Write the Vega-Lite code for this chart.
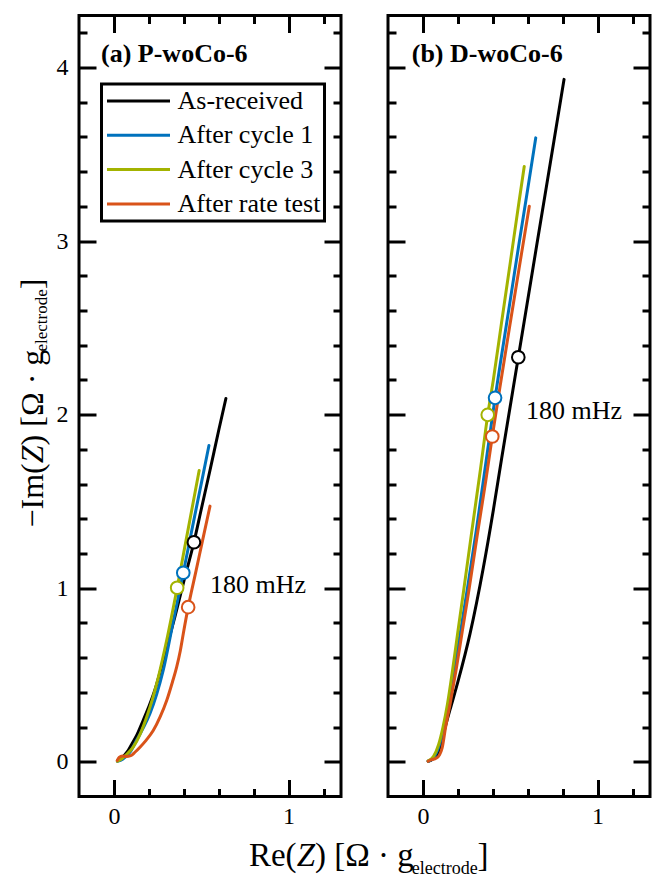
{
  "$schema": "https://vega.github.io/schema/vega-lite/v6.json",
  "padding": {"left": 15, "top": 12.5, "right": 0, "bottom": 0},
  "config": {
    "font": "Liberation Serif",
    "view": {"stroke": "black", "strokeWidth": 3},
    "axis": {"grid": false, "domain": false, "tickColor": "black", "tickWidth": 3, "tickSize": -17, "labelFont": "Liberation Serif", "labelFontSize": 24, "labelColor": "black", "labelPadding": 28, "labelFlush": false, "labelOverlap": false, "title": null},
    "text": {"font": "Liberation Serif", "color": "black"}
  },
  "datasets": {
    "curves": [
      {"panel":"a","series":"As-received","re":0.02,"im":0.005},{"panel":"a","series":"As-received","re":0.045,"im":0.02},{"panel":"a","series":"As-received","re":0.066,"im":0.045},{"panel":"a","series":"As-received","re":0.082,"im":0.066},{"panel":"a","series":"As-received","re":0.105,"im":0.107},{"panel":"a","series":"As-received","re":0.133,"im":0.158},{"panel":"a","series":"As-received","re":0.167,"im":0.238},{"panel":"a","series":"As-received","re":0.2,"im":0.318},{"panel":"a","series":"As-received","re":0.234,"im":0.412},{"panel":"a","series":"As-received","re":0.265,"im":0.52},{"panel":"a","series":"As-received","re":0.3,"im":0.65},{"panel":"a","series":"As-received","re":0.35,"im":0.84},{"panel":"a","series":"As-received","re":0.4,"im":1.04},{"panel":"a","series":"As-received","re":0.458,"im":1.265},{"panel":"a","series":"As-received","re":0.5,"im":1.455},{"panel":"a","series":"As-received","re":0.55,"im":1.68},{"panel":"a","series":"As-received","re":0.6,"im":1.91},{"panel":"a","series":"As-received","re":0.641,"im":2.093},
      {"panel":"a","series":"After cycle 1","re":0.02,"im":0.003},{"panel":"a","series":"After cycle 1","re":0.05,"im":0.015},{"panel":"a","series":"After cycle 1","re":0.092,"im":0.055},{"panel":"a","series":"After cycle 1","re":0.125,"im":0.115},{"panel":"a","series":"After cycle 1","re":0.165,"im":0.19},{"panel":"a","series":"After cycle 1","re":0.206,"im":0.277},{"panel":"a","series":"After cycle 1","re":0.245,"im":0.39},{"panel":"a","series":"After cycle 1","re":0.282,"im":0.526},{"panel":"a","series":"After cycle 1","re":0.34,"im":0.81},{"panel":"a","series":"After cycle 1","re":0.397,"im":1.089},{"panel":"a","series":"After cycle 1","re":0.45,"im":1.355},{"panel":"a","series":"After cycle 1","re":0.5,"im":1.603},{"panel":"a","series":"After cycle 1","re":0.544,"im":1.822},
      {"panel":"a","series":"After cycle 3","re":0.02,"im":0.003},{"panel":"a","series":"After cycle 3","re":0.045,"im":0.018},{"panel":"a","series":"After cycle 3","re":0.075,"im":0.045},{"panel":"a","series":"After cycle 3","re":0.11,"im":0.084},{"panel":"a","series":"After cycle 3","re":0.15,"im":0.16},{"panel":"a","series":"After cycle 3","re":0.187,"im":0.257},{"panel":"a","series":"After cycle 3","re":0.22,"im":0.36},{"panel":"a","series":"After cycle 3","re":0.254,"im":0.487},{"panel":"a","series":"After cycle 3","re":0.302,"im":0.7},{"panel":"a","series":"After cycle 3","re":0.362,"im":1.003},{"panel":"a","series":"After cycle 3","re":0.4,"im":1.207},{"panel":"a","series":"After cycle 3","re":0.45,"im":1.475},{"panel":"a","series":"After cycle 3","re":0.488,"im":1.678},
      {"panel":"a","series":"After rate test","re":0.019,"im":0.008},{"panel":"a","series":"After rate test","re":0.03,"im":0.025},{"panel":"a","series":"After rate test","re":0.048,"im":0.033},{"panel":"a","series":"After rate test","re":0.07,"im":0.03},{"panel":"a","series":"After rate test","re":0.096,"im":0.035},{"panel":"a","series":"After rate test","re":0.12,"im":0.055},{"panel":"a","series":"After rate test","re":0.149,"im":0.084},{"panel":"a","series":"After rate test","re":0.185,"im":0.125},{"panel":"a","series":"After rate test","re":0.225,"im":0.18},{"panel":"a","series":"After rate test","re":0.265,"im":0.26},{"panel":"a","series":"After rate test","re":0.302,"im":0.353},{"panel":"a","series":"After rate test","re":0.335,"im":0.46},{"panel":"a","series":"After rate test","re":0.359,"im":0.545},{"panel":"a","series":"After rate test","re":0.38,"im":0.64},{"panel":"a","series":"After rate test","re":0.397,"im":0.738},{"panel":"a","series":"After rate test","re":0.425,"im":0.891},{"panel":"a","series":"After rate test","re":0.47,"im":1.1},{"panel":"a","series":"After rate test","re":0.51,"im":1.287},{"panel":"a","series":"After rate test","re":0.55,"im":1.473},
      {"panel":"b","series":"As-received","re":0.03,"im":0.003},{"panel":"b","series":"As-received","re":0.055,"im":0.015},{"panel":"b","series":"As-received","re":0.08,"im":0.04},{"panel":"b","series":"As-received","re":0.1,"im":0.09},{"panel":"b","series":"As-received","re":0.125,"im":0.19},{"panel":"b","series":"As-received","re":0.155,"im":0.3},{"panel":"b","series":"As-received","re":0.2,"im":0.46},{"panel":"b","series":"As-received","re":0.27,"im":0.74},{"panel":"b","series":"As-received","re":0.346,"im":1.12},{"panel":"b","series":"As-received","re":0.403,"im":1.45},{"panel":"b","series":"As-received","re":0.451,"im":1.75},{"panel":"b","series":"As-received","re":0.546,"im":2.331},{"panel":"b","series":"As-received","re":0.65,"im":2.967},{"panel":"b","series":"As-received","re":0.75,"im":3.577},{"panel":"b","series":"As-received","re":0.808,"im":3.932},
      {"panel":"b","series":"After cycle 1","re":0.03,"im":0.003},{"panel":"b","series":"After cycle 1","re":0.065,"im":0.03},{"panel":"b","series":"After cycle 1","re":0.095,"im":0.1},{"panel":"b","series":"After cycle 1","re":0.12,"im":0.2},{"panel":"b","series":"After cycle 1","re":0.147,"im":0.33},{"panel":"b","series":"After cycle 1","re":0.18,"im":0.53},{"panel":"b","series":"After cycle 1","re":0.215,"im":0.75},{"panel":"b","series":"After cycle 1","re":0.255,"im":1.0},{"panel":"b","series":"After cycle 1","re":0.305,"im":1.33},{"panel":"b","series":"After cycle 1","re":0.36,"im":1.72},{"panel":"b","series":"After cycle 1","re":0.413,"im":2.097},{"panel":"b","series":"After cycle 1","re":0.45,"im":2.34},{"panel":"b","series":"After cycle 1","re":0.5,"im":2.66},{"panel":"b","series":"After cycle 1","re":0.55,"im":2.985},{"panel":"b","series":"After cycle 1","re":0.6,"im":3.3},{"panel":"b","series":"After cycle 1","re":0.646,"im":3.595},
      {"panel":"b","series":"After cycle 3","re":0.03,"im":0.005},{"panel":"b","series":"After cycle 3","re":0.06,"im":0.03},{"panel":"b","series":"After cycle 3","re":0.09,"im":0.1},{"panel":"b","series":"After cycle 3","re":0.115,"im":0.2},{"panel":"b","series":"After cycle 3","re":0.14,"im":0.33},{"panel":"b","series":"After cycle 3","re":0.17,"im":0.53},{"panel":"b","series":"After cycle 3","re":0.2,"im":0.75},{"panel":"b","series":"After cycle 3","re":0.235,"im":1.0},{"panel":"b","series":"After cycle 3","re":0.28,"im":1.33},{"panel":"b","series":"After cycle 3","re":0.33,"im":1.69},{"panel":"b","series":"After cycle 3","re":0.371,"im":1.999},{"panel":"b","series":"After cycle 3","re":0.403,"im":2.2},{"panel":"b","series":"After cycle 3","re":0.45,"im":2.53},{"panel":"b","series":"After cycle 3","re":0.5,"im":2.876},{"panel":"b","series":"After cycle 3","re":0.55,"im":3.225},{"panel":"b","series":"After cycle 3","re":0.58,"im":3.43},
      {"panel":"b","series":"After rate test","re":0.03,"im":0.003},{"panel":"b","series":"After rate test","re":0.05,"im":0.012},{"panel":"b","series":"After rate test","re":0.075,"im":0.02},{"panel":"b","series":"After rate test","re":0.095,"im":0.04},{"panel":"b","series":"After rate test","re":0.11,"im":0.08},{"panel":"b","series":"After rate test","re":0.13,"im":0.2},{"panel":"b","series":"After rate test","re":0.155,"im":0.33},{"panel":"b","series":"After rate test","re":0.19,"im":0.53},{"panel":"b","series":"After rate test","re":0.225,"im":0.75},{"panel":"b","series":"After rate test","re":0.265,"im":1.0},{"panel":"b","series":"After rate test","re":0.31,"im":1.3},{"panel":"b","series":"After rate test","re":0.36,"im":1.62},{"panel":"b","series":"After rate test","re":0.397,"im":1.874},{"panel":"b","series":"After rate test","re":0.447,"im":2.197},{"panel":"b","series":"After rate test","re":0.5,"im":2.53},{"panel":"b","series":"After rate test","re":0.55,"im":2.84},{"panel":"b","series":"After rate test","re":0.609,"im":3.201}
    ],
    "markers": [
      {"panel":"a","series":"As-received","re":0.458,"im":1.265},
      {"panel":"a","series":"After cycle 1","re":0.397,"im":1.089},
      {"panel":"a","series":"After cycle 3","re":0.362,"im":1.003},
      {"panel":"a","series":"After rate test","re":0.425,"im":0.891},
      {"panel":"b","series":"As-received","re":0.546,"im":2.331},
      {"panel":"b","series":"After cycle 1","re":0.413,"im":2.097},
      {"panel":"b","series":"After cycle 3","re":0.371,"im":1.999},
      {"panel":"b","series":"After rate test","re":0.397,"im":1.874}
    ]
  },
  "spacing": 47,
  "bounds": "flush",
  "resolve": {"scale": {"x": "independent", "y": "independent", "color": "independent", "stroke": "independent"}},
  "hconcat": [
    {
      "width": 262,
      "height": 781,
      "resolve": {"axis": {"x": "independent", "y": "independent"}},
      "layer": [
        {
          "data": {"name": "curves"},
          "transform": [{"filter": "datum.panel === 'a'"}],
          "mark": {"type": "line", "strokeWidth": 3, "interpolate": "monotone", "strokeCap": "round"},
          "encoding": {
            "x": {"field": "re", "type": "quantitative", "scale": {"domain": [-0.2, 1.3], "nice": false, "zero": false},
                  "axis": {"orient": "bottom", "labelPadding": 25, "values": [0, 0.2, 0.4, 0.6, 0.8, 1, 1.2], "labelExpr": "datum.value % 1 === 0 ? format(datum.value, 'd') : ''",
                           "tickDash": {"condition": {"test": "datum.value % 1 === 0", "value": [17, 0]}, "value": [8, 40]}}},
            "y": {"field": "im", "type": "quantitative", "scale": {"domain": [-0.2, 4.3], "nice": false, "zero": false},
                  "axis": {"orient": "left", "values": [0, 0.2, 0.4, 0.6, 0.8, 1, 1.2, 1.4, 1.6, 1.8, 2, 2.2, 2.4, 2.6, 2.8, 3, 3.2, 3.4, 3.6, 3.8, 4, 4.2], "labelExpr": "datum.value % 1 === 0 ? format(datum.value, 'd') : ''",
                           "tickDash": {"condition": {"test": "datum.value % 1 === 0", "value": [17, 0]}, "value": [8, 40]}}},
            "color": {"field": "series", "type": "nominal",
                      "scale": {"domain": ["As-received", "After cycle 1", "After cycle 3", "After rate test"], "range": ["#000000", "#0072BD", "#A3B300", "#D95319"]},
                      "legend": {"orient": "none", "legendX": 22.5, "legendY": 68.5, "title": null, "symbolType": "stroke", "symbolSize": 3969, "symbolStrokeWidth": 3, "symbolOpacity": 1,
                                 "labelFontSize": 26, "labelFont": "Liberation Serif", "labelColor": "black", "labelOffset": 6, "labelLimit": 400,
                                 "clipHeight": 26, "padding": 4, "rowPadding": 8.3, "strokeColor": "black", "fillColor": "white",
                                 "encode": {"legend": {"update": {"strokeWidth": {"value": 3}}}}}}
          }
        },
        {
          "data": {"name": "markers"},
          "transform": [{"filter": "datum.panel === 'a'"}],
          "mark": {"type": "point", "shape": "circle", "filled": false, "fill": "white", "strokeWidth": 2, "size": 160, "opacity": 1},
          "encoding": {
            "x": {"field": "re", "type": "quantitative",
                  "axis": {"orient": "top", "labels": false, "values": [0, 0.2, 0.4, 0.6, 0.8, 1, 1.2],
                           "tickDash": {"condition": {"test": "datum.value % 1 === 0", "value": [17, 0]}, "value": [8, 40]}}},
            "y": {"field": "im", "type": "quantitative",
                  "axis": {"orient": "right", "labels": false, "values": [0, 0.2, 0.4, 0.6, 0.8, 1, 1.2, 1.4, 1.6, 1.8, 2, 2.2, 2.4, 2.6, 2.8, 3, 3.2, 3.4, 3.6, 3.8, 4, 4.2],
                           "tickDash": {"condition": {"test": "datum.value % 1 === 0", "value": [17, 0]}, "value": [8, 40]}}},
            "stroke": {"field": "series", "type": "nominal",
                       "scale": {"domain": ["As-received", "After cycle 1", "After cycle 3", "After rate test"], "range": ["#000000", "#0072BD", "#A3B300", "#D95319"]},
                       "legend": null}
          }
        },
        {
          "data": {"values": [{}]},
          "mark": {"type": "text", "align": "left", "baseline": "alphabetic", "fontSize": 26},
          "encoding": {"x": {"datum": 0.55, "type": "quantitative", "axis": null}, "y": {"datum": 0.975, "type": "quantitative", "axis": null}, "text": {"value": "180 mHz"}}
        },
        {
          "data": {"values": [{}]},
          "mark": {"type": "text", "align": "left", "baseline": "alphabetic", "fontSize": 26, "fontWeight": "bold"},
          "encoding": {"x": {"datum": -0.074, "type": "quantitative", "axis": null}, "y": {"datum": 4.03, "type": "quantitative", "axis": null}, "text": {"value": "(a) P-woCo-6"}}
        },
        {
          "data": {"values": [{}]},
          "mark": {"type": "text", "align": "left", "baseline": "alphabetic", "fontSize": 33},
          "encoding": {"x": {"datum": 0.773, "type": "quantitative", "axis": null}, "y": {"datum": -0.603, "type": "quantitative", "axis": null}, "text": {"value": "Re("}}
        },
        {
          "data": {"values": [{}]},
          "mark": {"type": "text", "align": "left", "baseline": "alphabetic", "fontSize": 33, "fontStyle": "italic"},
          "encoding": {"x": {"datum": 1.046, "type": "quantitative", "axis": null}, "y": {"datum": -0.603, "type": "quantitative", "axis": null}, "text": {"value": "Z"}}
        },
        {
          "data": {"values": [{}]},
          "mark": {"type": "text", "align": "left", "baseline": "alphabetic", "fontSize": 33},
          "encoding": {"x": {"datum": 1.151, "type": "quantitative", "axis": null}, "y": {"datum": -0.603, "type": "quantitative", "axis": null}, "text": {"value": ") [Ω · g"}}
        },
        {
          "data": {"values": [{}]},
          "mark": {"type": "text", "align": "left", "baseline": "alphabetic", "fontSize": 18},
          "encoding": {"x": {"datum": 1.705, "type": "quantitative", "axis": null}, "y": {"datum": -0.649, "type": "quantitative", "axis": null}, "text": {"value": "electrode"}}
        },
        {
          "data": {"values": [{}]},
          "mark": {"type": "text", "align": "left", "baseline": "alphabetic", "fontSize": 33},
          "encoding": {"x": {"datum": 2.082, "type": "quantitative", "axis": null}, "y": {"datum": -0.603, "type": "quantitative", "axis": null}, "text": {"value": "]"}}
        },
        {
          "data": {"values": [{}]},
          "mark": {"type": "text", "align": "left", "baseline": "alphabetic", "fontSize": 32, "angle": 270},
          "encoding": {"x": {"datum": -0.406, "type": "quantitative", "axis": null}, "y": {"datum": 1.35, "type": "quantitative", "axis": null}, "text": {"value": "−Im("}}
        },
        {
          "data": {"values": [{}]},
          "mark": {"type": "text", "align": "left", "baseline": "alphabetic", "fontSize": 32, "angle": 270, "fontStyle": "italic"},
          "encoding": {"x": {"datum": -0.406, "type": "quantitative", "axis": null}, "y": {"datum": 1.72, "type": "quantitative", "axis": null}, "text": {"value": "Z"}}
        },
        {
          "data": {"values": [{}]},
          "mark": {"type": "text", "align": "left", "baseline": "alphabetic", "fontSize": 32, "angle": 270},
          "encoding": {"x": {"datum": -0.406, "type": "quantitative", "axis": null}, "y": {"datum": 1.823, "type": "quantitative", "axis": null}, "text": {"value": ") [Ω · g"}}
        },
        {
          "data": {"values": [{}]},
          "mark": {"type": "text", "align": "left", "baseline": "alphabetic", "fontSize": 17, "angle": 270},
          "encoding": {"x": {"datum": -0.384, "type": "quantitative", "axis": null}, "y": {"datum": 2.364, "type": "quantitative", "axis": null}, "text": {"value": "electrode"}}
        },
        {
          "data": {"values": [{}]},
          "mark": {"type": "text", "align": "left", "baseline": "alphabetic", "fontSize": 32, "angle": 270},
          "encoding": {"x": {"datum": -0.406, "type": "quantitative", "axis": null}, "y": {"datum": 2.723, "type": "quantitative", "axis": null}, "text": {"value": "]"}}
        }
      ]
    },
    {
      "width": 262,
      "height": 781,
      "resolve": {"axis": {"x": "independent", "y": "independent"}},
      "layer": [
        {
          "data": {"name": "curves"},
          "transform": [{"filter": "datum.panel === 'b'"}],
          "mark": {"type": "line", "strokeWidth": 3, "interpolate": "monotone", "strokeCap": "round"},
          "encoding": {
            "x": {"field": "re", "type": "quantitative", "scale": {"domain": [-0.2, 1.3], "nice": false, "zero": false},
                  "axis": {"orient": "bottom", "labelPadding": 25, "values": [0, 0.2, 0.4, 0.6, 0.8, 1, 1.2], "labelExpr": "datum.value % 1 === 0 ? format(datum.value, 'd') : ''",
                           "tickDash": {"condition": {"test": "datum.value % 1 === 0", "value": [17, 0]}, "value": [8, 40]}}},
            "y": {"field": "im", "type": "quantitative", "scale": {"domain": [-0.2, 4.3], "nice": false, "zero": false},
                  "axis": {"orient": "left", "labels": false, "values": [0, 0.2, 0.4, 0.6, 0.8, 1, 1.2, 1.4, 1.6, 1.8, 2, 2.2, 2.4, 2.6, 2.8, 3, 3.2, 3.4, 3.6, 3.8, 4, 4.2],
                           "tickDash": {"condition": {"test": "datum.value % 1 === 0", "value": [17, 0]}, "value": [8, 40]}}},
            "color": {"field": "series", "type": "nominal",
                      "scale": {"domain": ["As-received", "After cycle 1", "After cycle 3", "After rate test"], "range": ["#000000", "#0072BD", "#A3B300", "#D95319"]},
                      "legend": null}
          }
        },
        {
          "data": {"name": "markers"},
          "transform": [{"filter": "datum.panel === 'b'"}],
          "mark": {"type": "point", "shape": "circle", "filled": false, "fill": "white", "strokeWidth": 2, "size": 160, "opacity": 1},
          "encoding": {
            "x": {"field": "re", "type": "quantitative",
                  "axis": {"orient": "top", "labels": false, "values": [0, 0.2, 0.4, 0.6, 0.8, 1, 1.2],
                           "tickDash": {"condition": {"test": "datum.value % 1 === 0", "value": [17, 0]}, "value": [8, 40]}}},
            "y": {"field": "im", "type": "quantitative",
                  "axis": {"orient": "right", "labels": false, "values": [0, 0.2, 0.4, 0.6, 0.8, 1, 1.2, 1.4, 1.6, 1.8, 2, 2.2, 2.4, 2.6, 2.8, 3, 3.2, 3.4, 3.6, 3.8, 4, 4.2],
                           "tickDash": {"condition": {"test": "datum.value % 1 === 0", "value": [17, 0]}, "value": [8, 40]}}},
            "stroke": {"field": "series", "type": "nominal",
                       "scale": {"domain": ["As-received", "After cycle 1", "After cycle 3", "After rate test"], "range": ["#000000", "#0072BD", "#A3B300", "#D95319"]},
                       "legend": null}
          }
        },
        {
          "data": {"values": [{}]},
          "mark": {"type": "text", "align": "left", "baseline": "alphabetic", "fontSize": 26},
          "encoding": {"x": {"datum": 0.59, "type": "quantitative", "axis": null}, "y": {"datum": 1.975, "type": "quantitative", "axis": null}, "text": {"value": "180 mHz"}}
        },
        {
          "data": {"values": [{}]},
          "mark": {"type": "text", "align": "left", "baseline": "alphabetic", "fontSize": 26, "fontWeight": "bold"},
          "encoding": {"x": {"datum": -0.064, "type": "quantitative", "axis": null}, "y": {"datum": 4.03, "type": "quantitative", "axis": null}, "text": {"value": "(b) D-woCo-6"}}
        }
      ]
    }
  ]
}
